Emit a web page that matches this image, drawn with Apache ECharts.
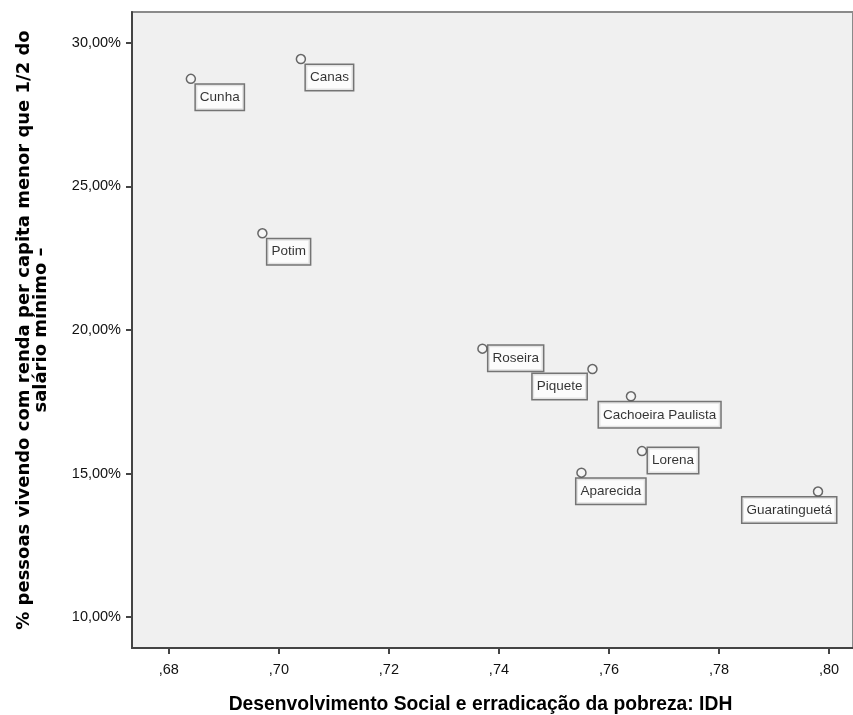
<!DOCTYPE html>
<html>
<head>
<meta charset="utf-8">
<script src="https://cdn.jsdelivr.net/npm/echarts@6/dist/echarts.min.js"></script>
<style>
html,body{margin:0;padding:0;background:#fff;}
#chart{width:853px;height:715px;}
</style>
</head>
<body>
<div id="chart"></div>
<script>
// Data
const cities = ['Cunha','Canas','Potim','Roseira','Piquete','Cachoeira Paulista','Lorena','Aparecida','Guaratinguetá'];
const idh    = [0.684, 0.704, 0.697, 0.737, 0.757, 0.764, 0.766, 0.755, 0.798];
const pobreza = [28.75, 29.44, 23.37, 19.35, 18.64, 17.69, 15.78, 15.03, 14.37];
const xTicks = [0.68, 0.70, 0.72, 0.74, 0.76, 0.78, 0.80];
const yTicks = [10, 15, 20, 25, 30];

// label placement (style only)
const labelPlace = {
  'Cunha': {align:'left', verticalAlign:'top', offset:[5,6]},
  'Canas': {align:'left', verticalAlign:'top', offset:[5,6]},
  'Potim': {align:'left', verticalAlign:'top', offset:[5,6]},
  'Roseira': {align:'left', verticalAlign:'top', offset:[6,-3]},
  'Piquete': {align:'right', verticalAlign:'top', offset:[-6,5]},
  'Cachoeira Paulista': {align:'left', verticalAlign:'top', offset:[-32,6]},
  'Lorena': {align:'left', verticalAlign:'top', offset:[6,-3]},
  'Aparecida': {align:'left', verticalAlign:'top', offset:[-5,6]},
  'Guaratinguetá': {align:'right', verticalAlign:'top', offset:[18,6]}
};

const FONT = '"Liberation Sans", Arial, sans-serif';
const data = cities.map((c, i) => ({
  name: c,
  value: [idh[i], pobreza[i]],
  label: Object.assign({}, labelPlace[c])
}));

const chart = echarts.init(document.getElementById('chart'), null, {renderer:'canvas'});
chart.setOption({
  animation: false,
  backgroundColor: '#ffffff',
  grid: {
    left: 132, top: 12, right: 0, bottom: 67,
    outerBoundsMode: 'none', containLabel: false,
    show: true, backgroundColor: '#f0f0f0', borderColor: '#8a8a8a', borderWidth: 2
  },
  xAxis: {
    type: 'value',
    min: 0.6733, max: 0.80436,
    name: 'Desenvolvimento Social e erradicação da pobreza: IDH',
    nameLocation: 'middle', nameGap: 47,
    nameTextStyle: {fontFamily: FONT, fontWeight: 'bold', fontSize: 19.3, color: '#000', padding: [0, 24, 0, 0]},
    axisLine: {show: true, lineStyle: {color: '#444', width: 2}},
    axisTick: {show: true, length: 6, lineStyle: {color: '#444', width: 2}, customValues: xTicks},
    axisLabel: {fontFamily: FONT, fontSize: 14.5, color: '#111', margin: 14, customValues: xTicks,
      formatter: v => ',' + Math.round(v * 100)},
    splitLine: {show: false}
  },
  yAxis: {
    type: 'value',
    min: 8.92, max: 31.08,
    name: '% pessoas vivendo com renda per capita menor que 1/2 do\nsalário mínimo –',
    nameLocation: 'middle', nameGap: 82,
    nameTextStyle: {fontFamily: '"DejaVu Sans", sans-serif', fontWeight: 'bold', fontSize: 18, lineHeight: 17, color: '#000', align: 'center'},
    axisLine: {show: true, lineStyle: {color: '#444', width: 2}},
    axisTick: {show: true, length: 6, lineStyle: {color: '#444', width: 2}, customValues: yTicks},
    axisLabel: {fontFamily: FONT, fontSize: 14.5, color: '#111', margin: 11, customValues: yTicks,
      formatter: v => v.toFixed(2).replace('.', ',') + '%'},
    splitLine: {show: false}
  },
  series: [{
    type: 'scatter',
    data: data,
    symbol: 'circle',
    symbolSize: 9,
    itemStyle: {color: '#f6f6f6', borderColor: '#444', borderWidth: 1.5},
    label: {
      show: true,
      position: 'inside',
      formatter: p => p.name,
      fontFamily: FONT, fontSize: 13.5, color: '#000',
      backgroundColor: '#ffffff', borderColor: '#555', borderWidth: 1.5,
      padding: [5, 4, 5, 4], lineHeight: 15
    },
    emphasis: {disabled: true}
  }]
});
</script>
</body>
</html>
